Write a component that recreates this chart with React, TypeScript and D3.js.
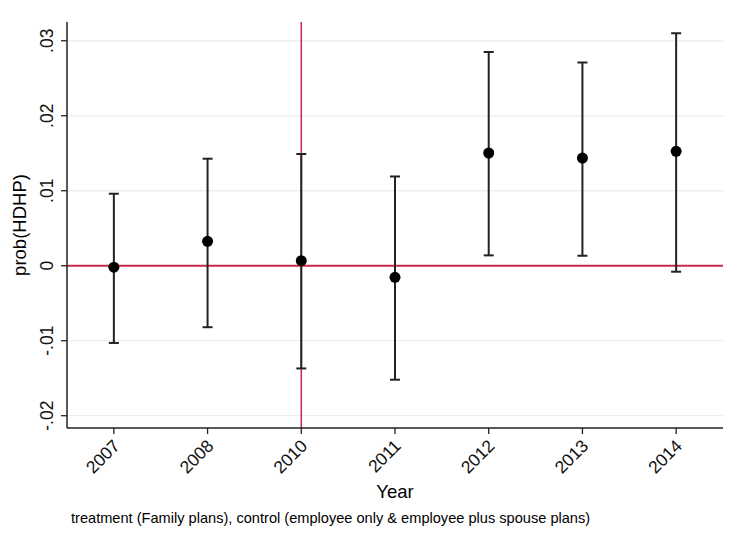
import React from 'react';
import * as d3 from 'd3';

// Coefficients and 95% CI
const years = ['2007', '2008', '2010', '2011', '2012', '2013', '2014'];
const estimates = [-0.0002, 0.00325, 0.00067, -0.00155, 0.01503, 0.01436, 0.01525];
const upperCI = [0.0096, 0.01427, 0.0149, 0.0119, 0.0285, 0.0271, 0.031];
const lowerCI = [-0.0103, -0.0082, -0.0137, -0.0152, 0.00138, 0.00133, -0.0008];
const yTicks = [-0.02, -0.01, 0, 0.01, 0.02, 0.03];
const yTickLabels = ['-.02', '-.01', '0', '.01', '.02', '.03'];
const eventYear = '2010';

const W = 735;
const H = 545;
const margin = {top: 22, right: 12, bottom: 117, left: 67};

const FONT = '"Liberation Sans", Arial, Helvetica, sans-serif';
const RED = '#c8294f';
const INK = '#222222';

export default function App()
{
    const w = W - margin.left - margin.right;
    const h = H - margin.top - margin.bottom;

    const x = d3.scalePoint<string>().domain(years).range([0, w]).padding(0.5);
    const y = d3.scaleLinear().domain([-0.02164, 0.0325]).range([h, 0]);

    const capW = 5;

    return (
        <svg width={W} height={H} style={{position: 'absolute', left: 0, top: 0, background: '#fff'}}
             fontFamily={FONT}>
            <rect width={W} height={H} fill="#fff"/>
            <g transform={`translate(${margin.left},${margin.top})`}>
                {/* grid */}
                {yTicks.map((t, i) => (
                    <line key={'g' + i} x1={0} x2={w} y1={y(t)} y2={y(t)} stroke="#e8f0f1" strokeWidth={1.3}/>
                ))}

                {/* reference lines */}
                <line x1={0} x2={w} y1={y(0)} y2={y(0)} stroke={RED} strokeWidth={2}/>
                <line x1={x(eventYear)} x2={x(eventYear)} y1={0} y2={h} stroke={RED} strokeWidth={1.5}/>

                {/* error bars */}
                {years.map((yr, i) => {
                    const cx = x(yr) as number;
                    return (
                        <g key={'e' + i} stroke={INK} strokeWidth={2}>
                            <line x1={cx} x2={cx} y1={y(upperCI[i])} y2={y(lowerCI[i])}/>
                            <line x1={cx - capW} x2={cx + capW} y1={y(upperCI[i])} y2={y(upperCI[i])}/>
                            <line x1={cx - capW} x2={cx + capW} y1={y(lowerCI[i])} y2={y(lowerCI[i])}/>
                        </g>
                    );
                })}

                {/* point estimates */}
                {years.map((yr, i) => (
                    <circle key={'p' + i} cx={x(yr)} cy={y(estimates[i])} r={5.5} fill="#000"/>
                ))}

                {/* y axis */}
                <line x1={0} x2={0} y1={0} y2={h} stroke={INK} strokeWidth={1.5}/>
                {yTicks.map((t, i) => (
                    <g key={'yt' + i} transform={`translate(0,${y(t)})`}>
                        <line x1={-6} x2={0} stroke={INK} strokeWidth={1.3}/>
                        <text transform="translate(-14,0) rotate(-90)" textAnchor="middle" fontSize={17.5}
                              fill="#111">{yTickLabels[i]}</text>
                    </g>
                ))}

                {/* x axis */}
                <line x1={0} x2={w} y1={h} y2={h} stroke={INK} strokeWidth={1.5}/>
                {years.map((yr, i) => (
                    <g key={'xt' + i} transform={`translate(${x(yr)},${h})`}>
                        <line y1={0} y2={6} stroke={INK} strokeWidth={1.3}/>
                        <text transform="translate(7,19) rotate(-45)" textAnchor="end" fontSize={17.5}
                              fill="#111">{yr}</text>
                    </g>
                ))}

                {/* axis titles */}
                <text x={w / 2} y={h + 70} textAnchor="middle" fontSize={18.5} fill="#000">Year</text>
                <text transform={`translate(${-41},${h / 2}) rotate(-90)`} textAnchor="middle" fontSize={18.5}
                      fill="#000">prob(HDHP)</text>
            </g>

            <text x={71} y={523} fontSize={14.6} fill="#000">
                treatment (Family plans), control (employee only &amp; employee plus spouse plans)
            </text>
        </svg>
    );
}
